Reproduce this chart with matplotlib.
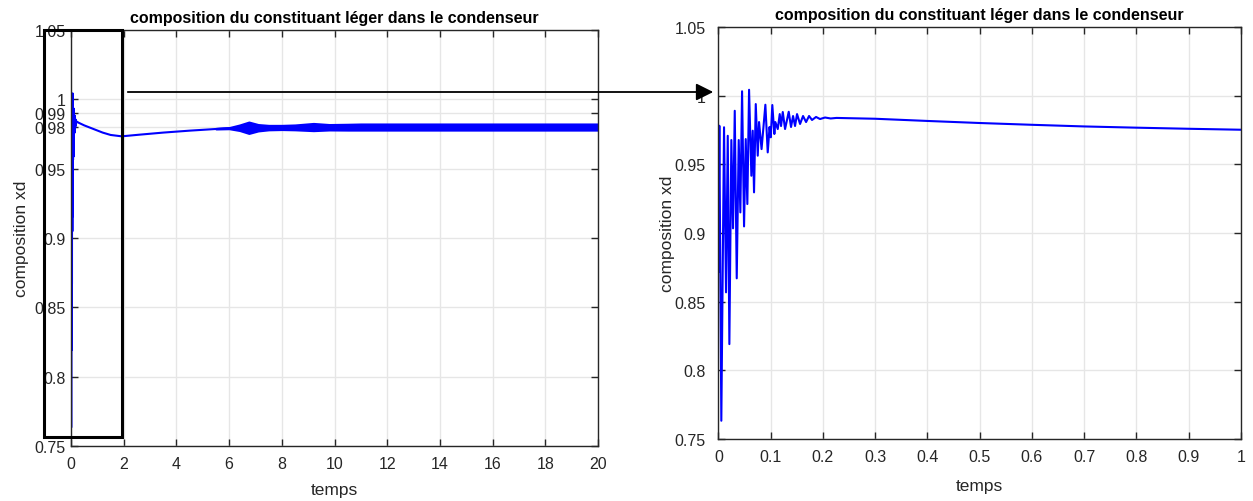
import numpy as np
import matplotlib.pyplot as plt
from matplotlib.patches import Rectangle, FancyArrowPatch

plt.rcParams['font.family'] = ['Liberation Sans', 'DejaVu Sans']

t_debut = [0.0, 0.0019, 0.0057, 0.0109, 0.0147, 0.0180, 0.0211, 0.0249, 0.0281,
           0.0314, 0.0352, 0.0390, 0.0421, 0.0454, 0.0492, 0.0524, 0.0555, 0.0588,
           0.0632, 0.0658, 0.0683, 0.0716, 0.0754, 0.0779, 0.0827, 0.0900, 0.0945,
           0.0980, 0.1003, 0.1033, 0.1072, 0.1091, 0.1137, 0.1175, 0.1200, 0.1233,
           0.1277, 0.1347, 0.1391, 0.1430, 0.1468, 0.1506, 0.1564, 0.1621, 0.1679,
           0.1736, 0.1793, 0.1870, 0.1946, 0.2042, 0.2150, 0.2260]
xd_debut = [0.8718, 0.9781, 0.7633, 0.9770, 0.8568, 0.9708, 0.8191, 0.9677, 0.9034,
            0.9890, 0.8670, 0.9677, 0.9150, 1.0032, 0.9048, 0.9684, 0.9211, 1.0043,
            0.9417, 0.9745, 0.9296, 0.9939, 0.9563, 0.9808, 0.9611, 0.9934, 0.9587,
            0.9772, 0.9697, 0.9932, 0.9721, 0.9808, 0.9757, 0.9866, 0.9779, 0.9881,
            0.9757, 0.9883, 0.9772, 0.9852, 0.9779, 0.9866, 0.9794, 0.9852, 0.9808,
            0.9852, 0.9823, 0.9845, 0.9830, 0.9841, 0.9834, 0.9838]

# suite de la vue zoomée (0.25 - 1 s)
t_zoom_fin = [0.25, 0.3, 0.4, 0.5, 0.6, 0.7, 0.8, 0.9, 1.0]
xd_zoom_fin = [0.9836, 0.9832, 0.9816, 0.9801, 0.9788, 0.9776, 0.9767, 0.9759, 0.9752]

# évolution lente sur 20 s (valeur moyenne)
t_lent = [0.3, 0.5, 0.85, 1.2, 1.5, 1.92, 2.6, 3.5, 4.5, 5.5, 6.0, 7.0, 8.0, 10.0, 20.0]
xd_lent = [0.9830, 0.9812, 0.9786, 0.9760, 0.9743, 0.9733, 0.9745, 0.9760, 0.9774,
           0.9786, 0.9792, 0.9795, 0.9797, 0.9800, 0.9800]

# enveloppe des oscillations rapides (bande épaisse)
t_env = [5.5, 6.0, 6.4, 6.75, 7.1, 7.5, 8.0, 8.5, 9.2, 9.8, 10.5, 11.0, 20.0]
xd_haut = [0.9790, 0.9796, 0.9815, 0.9836, 0.9818, 0.9812, 0.9812, 0.9815, 0.9826,
           0.9818, 0.9820, 0.9822, 0.9822]
xd_bas = [0.9786, 0.9788, 0.9775, 0.9754, 0.9772, 0.9780, 0.9782, 0.9780, 0.9774,
          0.9779, 0.9778, 0.9778, 0.9778]

yticks_g = [0.75, 0.8, 0.85, 0.9, 0.95, 0.98, 0.99, 1.0, 1.05]
yticklabels_g = ['0.75', '0.8', '0.85', '0.9', '0.95', '0.98', '0.99', '1', '1.05']
xticks_g = list(range(0, 21, 2))
yticks_d = [0.75, 0.8, 0.85, 0.9, 0.95, 1.0, 1.05]
yticklabels_d = ['0.75', '0.8', '0.85', '0.9', '0.95', '1', '1.05']
xticks_d = [0, 0.1, 0.2, 0.3, 0.4, 0.5, 0.6, 0.7, 0.8, 0.9, 1]
xticklabels_d = ['0', '0.1', '0.2', '0.3', '0.4', '0.5', '0.6', '0.7', '0.8', '0.9', '1']

titre = 'composition du constituant léger dans le condenseur'

fig = plt.figure(figsize=(12.53, 5.02), dpi=100)
ax1 = fig.add_axes([0.0567, 0.1096, 0.4206, 0.8287])
ax2 = fig.add_axes([0.5733, 0.1235, 0.4170, 0.8207])


def style(ax, ypad):
    ax.grid(True, color='#e6e6e6', linewidth=1.0)
    ax.set_axisbelow(True)
    ax.tick_params(direction='in', top=True, right=True, labelsize=11.5,
                   colors='#262626', length=5, width=1)
    ax.tick_params(axis='x', pad=7)
    ax.tick_params(axis='y', pad=ypad)
    for sp in ax.spines.values():
        sp.set_color('#262626')
        sp.set_linewidth(1.0)


# graphe de gauche
t_g = t_debut + t_lent
xd_g = xd_debut + xd_lent
ax1.plot(t_g, xd_g, color='blue', linewidth=1.5)
ax1.fill_between(t_env, xd_bas, xd_haut, color='blue', linewidth=1.5, edgecolor='blue')
ax1.set_xlim(0, 20)
ax1.set_ylim(0.75, 1.05)
ax1.set_xticks(xticks_g)
ax1.set_yticks(yticks_g)
ax1.set_yticklabels(yticklabels_g)
style(ax1, 4)
ax1.set_title(titre, fontsize=11.5, fontweight='bold', pad=6)
ax1.set_xlabel('temps', fontsize=12.5, color='#262626', labelpad=8)
ax1.set_ylabel('composition xd', fontsize=12.5, color='#262626', labelpad=4)

# cadre de zoom
ax1.add_patch(Rectangle((-1.02, 0.7565), 2.97, 0.2935, fill=False, edgecolor='black',
                        linewidth=2.2, clip_on=False, zorder=5))

# graphe de droite
t_d = t_debut + t_zoom_fin
xd_d = xd_debut + xd_zoom_fin
ax2.plot(t_d, xd_d, color='blue', linewidth=1.5)
ax2.set_xlim(0, 1)
ax2.set_ylim(0.75, 1.05)
ax2.set_xticks(xticks_d)
ax2.set_xticklabels(xticklabels_d)
ax2.set_yticks(yticks_d)
ax2.set_yticklabels(yticklabels_d)
style(ax2, 9)
ax2.set_title(titre, fontsize=11.5, fontweight='bold', pad=6)
ax2.set_xlabel('temps', fontsize=12.5, color='#262626', labelpad=10)
ax2.set_ylabel('composition xd', fontsize=12.5, color='#262626', labelpad=0)

# flèche entre les deux graphes
fleche = FancyArrowPatch((125 / 1253, 1 - 93 / 502), (716 / 1253, 1 - 93 / 502),
                         transform=fig.transFigure, arrowstyle='-|>',
                         mutation_scale=26, color='black', linewidth=1.3)
fig.add_artist(fleche)

fig.savefig('out.png', dpi=100)
